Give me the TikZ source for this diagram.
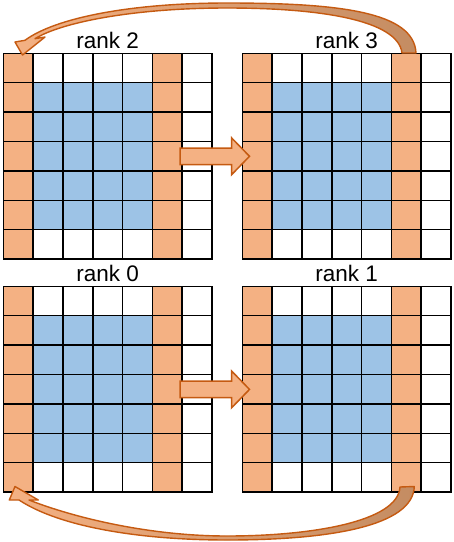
\documentclass[tikz,border=0pt]{standalone}
\usepackage{fontspec}
\setmainfont{Liberation Sans}
\definecolor{cellorange}{HTML}{F4B183}
\definecolor{cellblue}{HTML}{9DC3E6}
\definecolor{arrowline}{HTML}{C55A11}
\definecolor{arrowdark}{HTML}{C48C62}
\begin{document}
\begin{tikzpicture}[x=1pt,y=-1pt,
  gridline/.style={black, line width=1.5pt},
  ranklabel/.style={anchor=base, inner sep=0pt, font=\fontsize{22.5}{27}\selectfont},
  blockarrow/.style={draw=arrowline, fill=cellorange, line width=1.5pt, line join=miter},
  curvedarrow/.style={draw=arrowline, line width=1.4pt, left color=cellorange, middle color=cellorange, right color=arrowdark, line join=round}]
\useasboundingbox (0,0) rectangle (454,542);
\def\cw{29.8}
\def\ch{29.4}
\foreach \gx/\gy/\gname/\glab in {3.4/53.3/r2/rank 2, 242.4/53.3/r3/rank 3, 3.4/286.3/r0/rank 0, 242.4/286.3/r1/rank 1}{
  \begin{scope}[shift={(\gx,\gy)}]
    \fill[cellorange] (0,0) rectangle (\cw,7*\ch);
    \fill[cellorange] (5*\cw,0) rectangle (6*\cw,7*\ch);
    \fill[cellblue] (\cw,\ch) rectangle (5*\cw,6*\ch);
    \foreach \i in {1,...,6}{
      \draw[gridline] (\i*\cw,0) -- (\i*\cw,7*\ch);
      \draw[gridline] (0,\i*\ch) -- (7*\cw,\i*\ch);
    }
    \draw[gridline] (0,0) rectangle (7*\cw,7*\ch);
    \node[ranklabel] (lab\gname) at (3.5*\cw,-5.3) {\glab};
  \end{scope}
}
% straight block arrows
\foreach \cy/\aname in {156.3/top, 389.4/bot}{
  \coordinate (\aname-tip) at (249.5,\cy);
  \draw[blockarrow] (180,\cy-8.3) -- (231.5,\cy-8.3) -- (231.5,\cy-18.5) -- (\aname-tip)
     -- (231.5,\cy+18.5) -- (231.5,\cy+8.3) -- (180,\cy+8.3) -- cycle;
}
% curved arrow rank 3 -> rank 2
\path[curvedarrow] (402,53) .. controls (398,20) and (320,8) .. (227,8)
   .. controls (135,8) and (62,22) .. (35,38.7) -- (45,37) -- (22.5,55) -- (15,42) -- (25,40.3)
   .. controls (55,18) and (130,3) .. (227,3)
   .. controls (340,3) and (414,12) .. (416,53) -- cycle;
% curved arrow rank 1 -> rank 0
\path[curvedarrow] (400,487) .. controls (398,522) and (310,536) .. (227,536)
   .. controls (150,536) and (75,518) .. (29,500) -- (38.3,500) -- (15,486.5) -- (9.3,500) -- (19,500)
   .. controls (60,527) and (140,540) .. (227,540)
   .. controls (330,540) and (413,526) .. (414.3,486.5) -- cycle;
\end{tikzpicture}
\end{document}
